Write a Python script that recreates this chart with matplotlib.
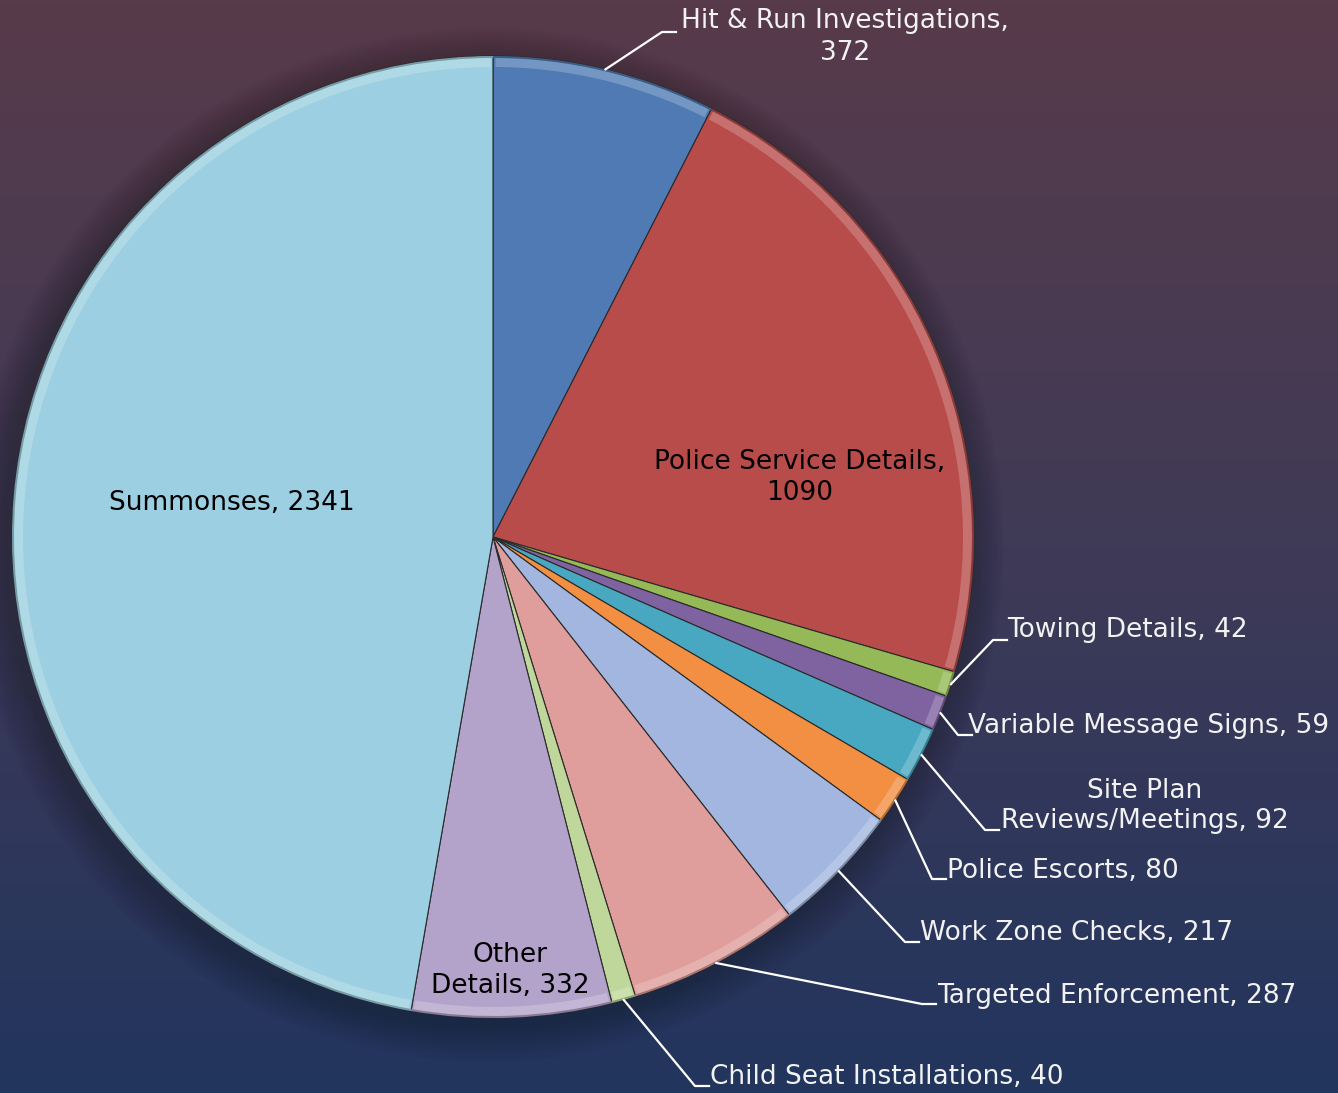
import numpy as np
import matplotlib.pyplot as plt
from matplotlib.patches import Wedge, Circle
from matplotlib.colors import to_rgb

labels = ['Hit & Run Investigations,\n372', 'Police Service Details,\n1090', 'Towing Details, 42',
          'Variable Message Signs, 59', 'Site Plan\nReviews/Meetings, 92', 'Police Escorts, 80',
          'Work Zone Checks, 217', 'Targeted Enforcement, 287', 'Child Seat Installations, 40',
          'Other\nDetails, 332', 'Summonses, 2341']
values = [372, 1090, 42, 59, 92, 80, 217, 287, 40, 332, 2341]
colors = ['#4F7AB3', '#B84C4A', '#94B956', '#7F62A0', '#48A8C2', '#F28F43',
          '#A2B6DF', '#DF9D9B', '#BFD79A', '#B3A3CB', '#9CCFE1']

W, H = 1338, 1093
fig = plt.figure(figsize=(W / 100, H / 100), dpi=100)
ax = fig.add_axes([0, 0, 1, 1])

# background gradient
top = np.array(to_rgb('#583B4A'))
mid = np.array(to_rgb('#3F3A57'))
bot = np.array(to_rgb('#22355E'))
t = np.linspace(0, 1, 256)[:, None]
grad = np.where(t < 0.5, top + (mid - top) * (t / 0.5), mid + (bot - mid) * ((t - 0.5) / 0.5))
grad = np.repeat(grad[:, None, :], 2, axis=1)
ax.imshow(grad, extent=[0, W, 0, H], aspect='auto', origin='upper', zorder=0)

cx, cy, R = 493, H - 537, 481

# soft shadow around the pie
for k in range(36, 0, -3):
    ax.add_patch(Circle((cx - 6, cy - 8), R + k, color='black', alpha=0.02, lw=0, zorder=1))

wedges, _ = ax.pie(values, colors=colors, startangle=90, counterclock=False,
                   center=(cx, cy), radius=R, frame=True,
                   wedgeprops=dict(edgecolor='#2a2a2a', linewidth=0.8))
for w in wedges:
    w.set_zorder(3)
    # bevel highlight at outer rim
    c = np.array(to_rgb(w.get_facecolor()))
    light = c + (1 - c) * 0.35
    ax.add_patch(Wedge((cx, cy), R - 1, w.theta1 + 0.3, w.theta2 - 0.3, width=10,
                       color=light, alpha=0.6, lw=0, zorder=4))
    ax.add_patch(Wedge((cx, cy), R, w.theta1, w.theta2, width=2,
                       color=c * 0.75, lw=0, zorder=4))
ax.set_xlim(0, W)
ax.set_ylim(0, H)
ax.set_aspect('equal')
ax.axis('off')

fs = 19
# label anchor: (elbow x, elbow y, text x, text y, ha) in pixel coords (y from top)
outside = {
    0: (662, 32, 845, 37, 'center'),
    2: (993, 640, 1007, 630, 'left'),
    3: (958, 735, 968, 726, 'left'),
    4: (985, 830, 1145, 806, 'center'),
    5: (932, 879, 947, 871, 'left'),
    6: (905, 942, 920, 933, 'left'),
    7: (922, 1004, 937, 996, 'left'),
    8: (695, 1086, 710, 1077, 'left'),
}
for i, w in enumerate(wedges):
    mid_a = np.deg2rad((w.theta1 + w.theta2) / 2)
    if i in outside:
        ex, ey, tx, ty, ha = outside[i]
        px = cx + R * np.cos(mid_a)
        py = cy + R * np.sin(mid_a)
        ax.plot([px, ex, ex + 14], [py, H - ey, H - ey], color='white', lw=1.6, zorder=5)
        ax.text(tx, H - ty, labels[i], color='#F2F2F2', fontsize=fs, ha=ha, va='center',
                linespacing=1.25, family='DejaVu Sans', zorder=6)

inside = {1: (800, 477), 9: (510, 971), 10: (232, 503)}
for i, (tx, ty) in inside.items():
    ax.text(tx, H - ty, labels[i], color='black', fontsize=fs, ha='center', va='center',
            linespacing=1.25, family='DejaVu Sans', zorder=6)

fig.savefig('out.png', dpi=100)
